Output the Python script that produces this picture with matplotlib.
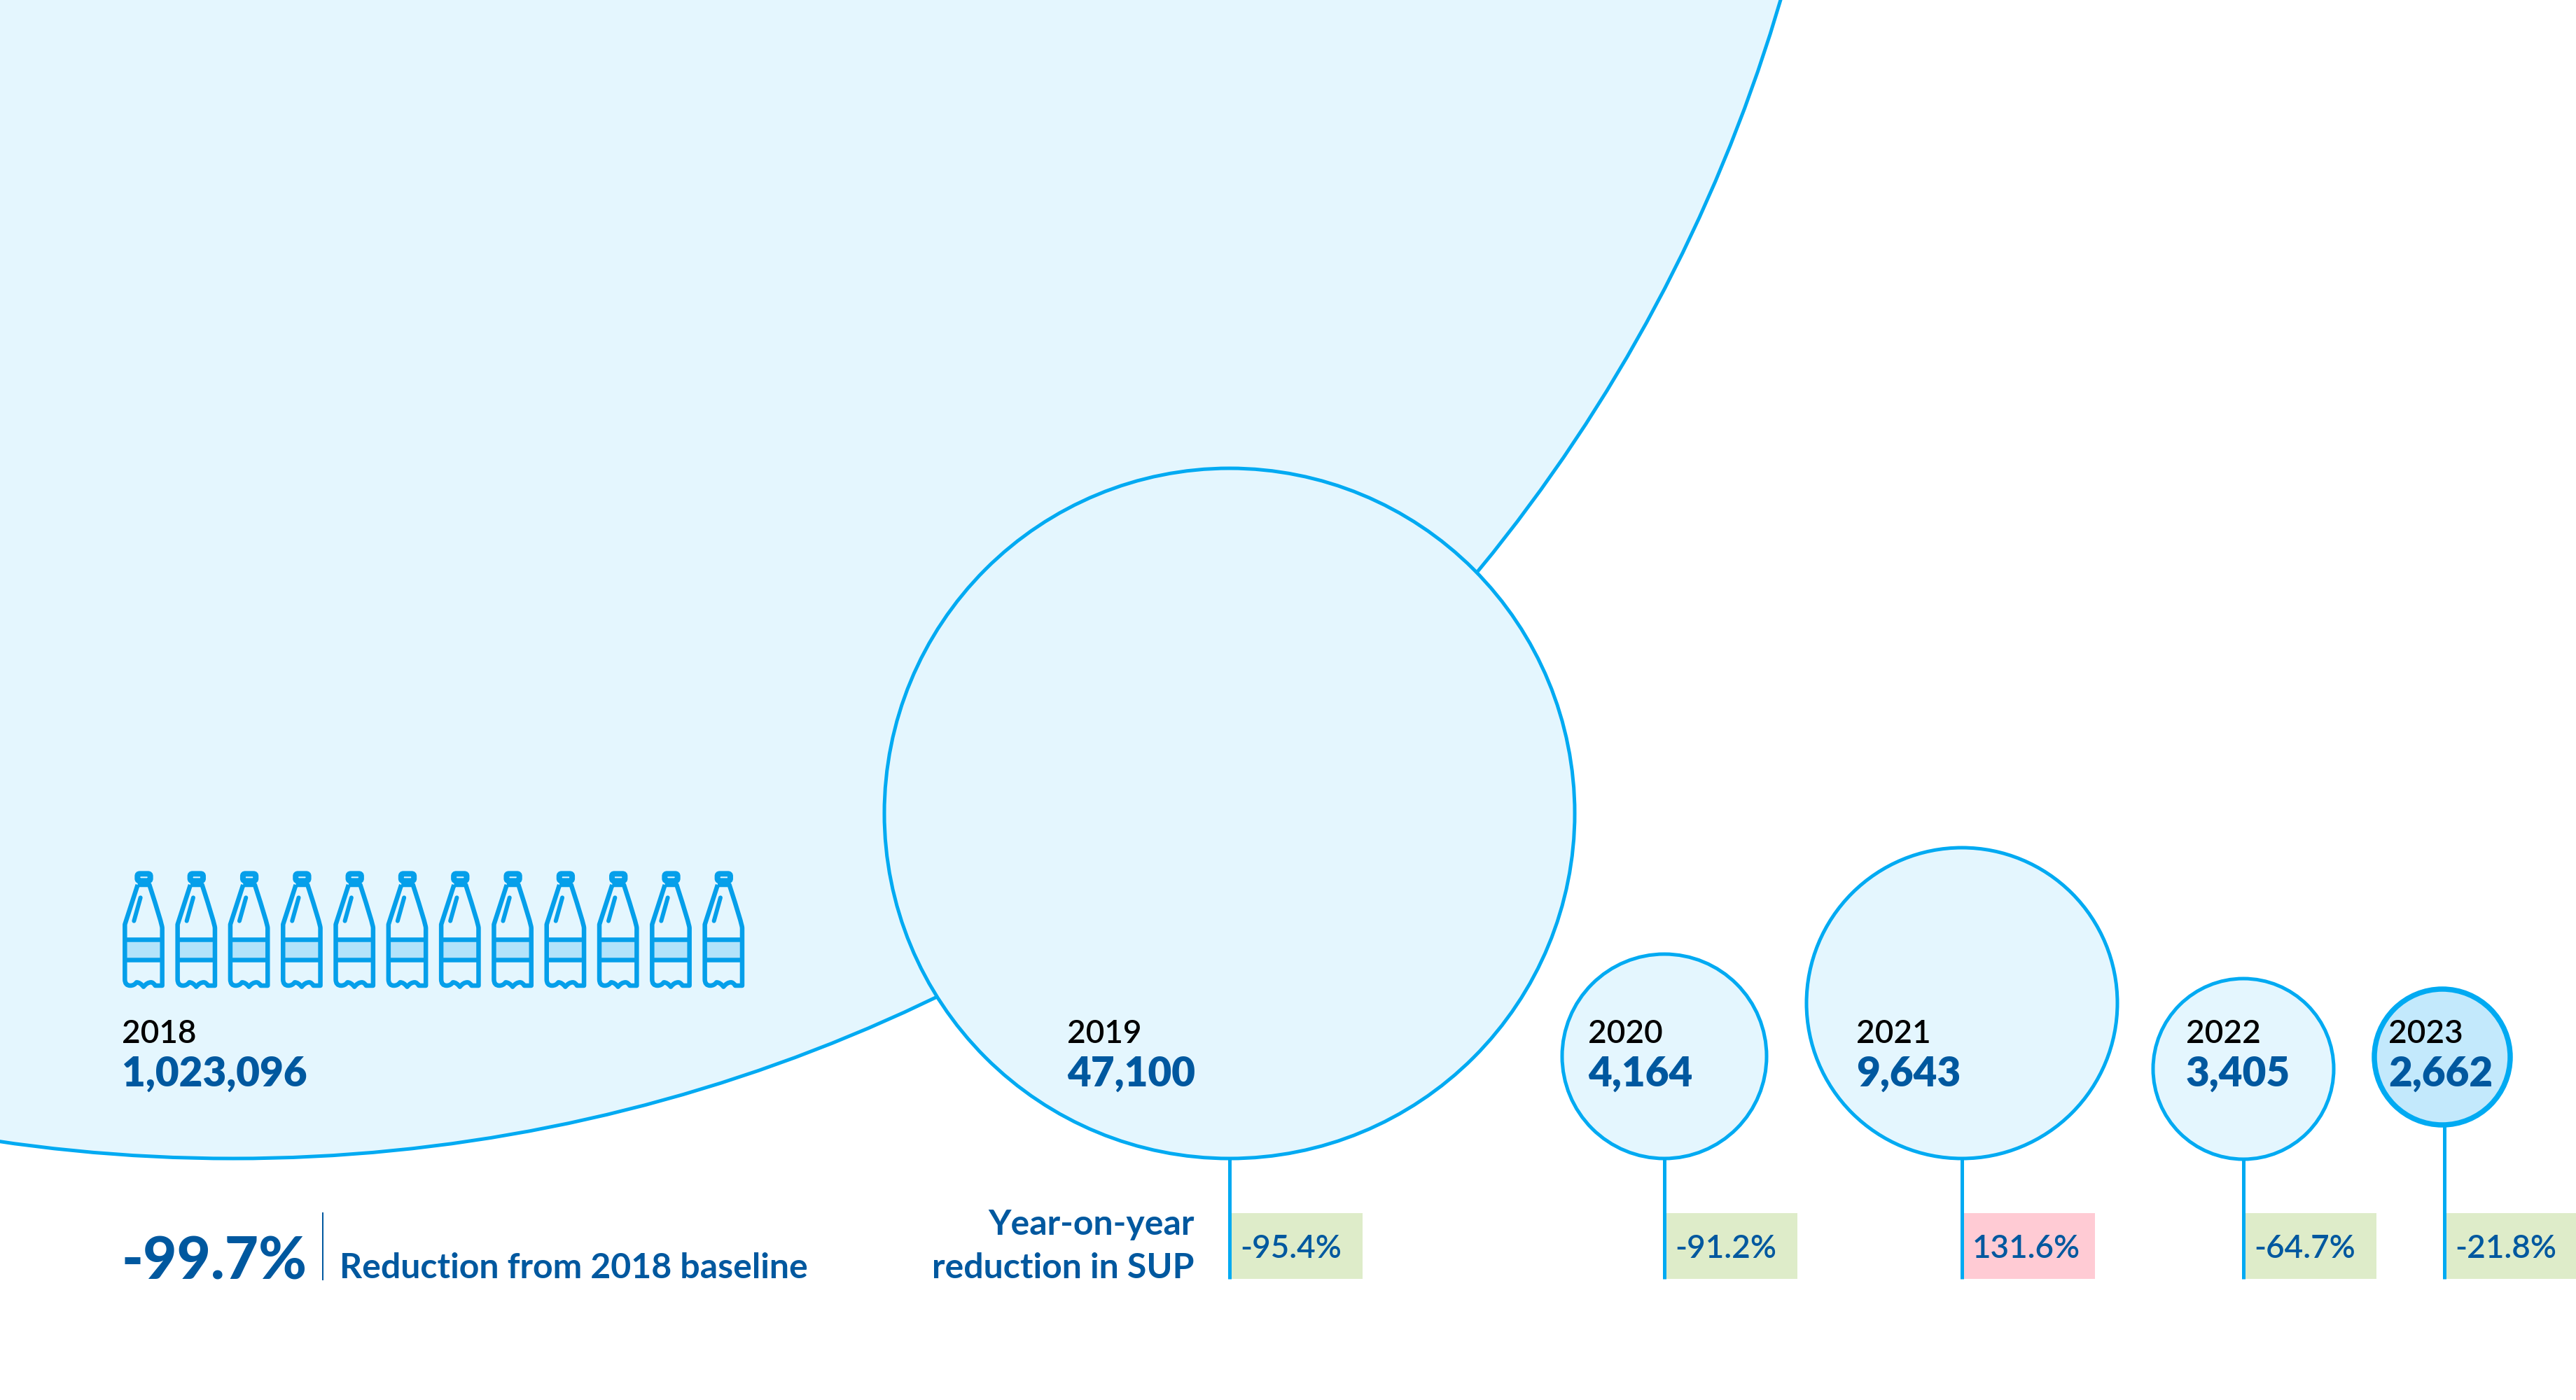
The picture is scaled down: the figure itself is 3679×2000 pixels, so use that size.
import matplotlib
matplotlib.use('Agg')
import matplotlib.pyplot as plt
from matplotlib.patches import Circle, Rectangle, PathPatch, FancyBboxPatch
from matplotlib.path import Path
from matplotlib.transforms import Affine2D

plt.rcParams['font.family'] = ['Lato', 'Open Sans', 'DejaVu Sans']

years = ['2018', '2019', '2020', '2021', '2022', '2023']
values = [1023096, 47100, 4164, 9643, 3405, 2662]
changes = [None, -95.4, -91.2, 131.6, -64.7, -21.8]
total_change = -99.7
bottle_count = 12

# circle layout in reference pixels
centre_x = [333, 1756, 2377, 2802, 3204, 3488]
stem_x = [333, 1756, 2377, 2802, 3204, 3491]
bottom_y = [1655, 1655, 1655, 1655, 1656, 1607]
radius = [2303, 493, 146, 222, 129, 97]
label_x = [174, 1524, 2268, 2651, 3122, 3411]

DARK = '#00589F'
LINE = '#00AAF2'
PALE = '#E4F6FE'
MID = '#C3E9FC'
GOOD = '#DEECC9'
BAD = '#FFCBD4'
PX = 0.72  # px to pt at dpi 100

BOX_TOP, BOX_BOTTOM, BOX_W = 1733, 1827, 190


def draw_bottle(ax, left, top):
    # shape taken from 3x crop, so units are 1/3 px
    t = Affine2D().translate(-75, -78).scale(1 / 3).translate(left, top) + ax.transData
    body = Path(
        [(140, 135), (85, 305), (85, 320), (85, 540), (85, 567), (108, 567),
         (125, 567), (135, 553), (150, 553), (165, 572), (180, 553), (197, 553),
         (207, 553), (215, 567), (222, 567), (245, 567), (245, 540), (245, 320),
         (245, 305), (190, 135), (140, 135)],
        [Path.MOVETO, Path.LINETO, Path.CURVE3, Path.LINETO, Path.CURVE3, Path.CURVE3,
         Path.CURVE3, Path.CURVE3, Path.CURVE3, Path.CURVE3, Path.CURVE3, Path.CURVE3,
         Path.CURVE3, Path.CURVE3, Path.CURVE3, Path.CURVE3, Path.CURVE3, Path.LINETO,
         Path.CURVE3, Path.CURVE3, Path.LINETO])
    ax.add_patch(Rectangle((85, 375), 160, 75, fc='#B3E3FA', ec='none', transform=t, zorder=5))
    ax.add_patch(PathPatch(body, fc='none', ec='#059FEA', lw=6.5 * PX, transform=t, zorder=6, joinstyle='round'))
    for y in (370, 455):
        ax.plot([85, 245], [y, y], color='#059FEA', lw=6.5 * PX, transform=t, zorder=6, solid_capstyle='butt')
    ax.plot([152, 124], [190, 290], color='#059FEA', lw=6 * PX, transform=t, zorder=6, solid_capstyle='round')
    ax.add_patch(FancyBboxPatch((139, 88), 55, 30, boxstyle='round,pad=0,rounding_size=10', fc='none',
                                ec='#059FEA', lw=8 * PX, transform=t, zorder=6))


fig = plt.figure(figsize=(36.8, 20), dpi=100, facecolor='white')
ax = fig.add_axes([0, 0, 1, 1])
ax.set_xlim(0, 3680)
ax.set_ylim(2000, 0)
ax.axis('off')

for i, year in enumerate(years):
    last = i == len(years) - 1
    cy = bottom_y[i] - radius[i]
    ax.add_patch(Circle((centre_x[i], cy), radius[i], fc=MID if last else PALE, ec=LINE,
                        lw=(7.5 if last else 5) * PX, zorder=2 + i * 0.1))
    ax.text(label_x[i], 1490, year, fontsize=33, color='black', fontweight='semibold', zorder=8)
    ax.text(label_x[i], 1552, f'{values[i]:,}', fontsize=42, color=DARK, fontweight='heavy', zorder=8)
    if changes[i] is None:
        continue
    x = stem_x[i]
    ax.add_patch(Rectangle((x, BOX_TOP), BOX_W, BOX_BOTTOM - BOX_TOP, fc=GOOD if changes[i] < 0 else BAD, ec='none', zorder=3))
    ax.plot([x, x], [bottom_y[i], BOX_BOTTOM], color=LINE, lw=5 * PX, zorder=4, solid_capstyle='butt')
    ax.text(x + 15, 1797, f'{changes[i]:.1f}%', fontsize=33, color=DARK, fontweight='semibold', zorder=8)

for b in range(bottle_count):
    draw_bottle(ax, 175 + b * 75.3, 1245)

ax.text(174, 1827, f'{total_change:.1f}%', fontsize=60, color=DARK, fontweight='black')
ax.plot([461, 461], [1733, 1828], color=DARK, lw=2 * PX)
ax.text(485, 1826, 'Reduction from 2018 baseline', fontsize=36, color=DARK, fontweight='bold')
ax.text(1706, 1764, 'Year-on-year', fontsize=36, color=DARK, fontweight='bold', ha='right')
ax.text(1706, 1826, 'reduction in SUP', fontsize=36, color=DARK, fontweight='bold', ha='right')

fig.savefig('out.png', dpi=100)
